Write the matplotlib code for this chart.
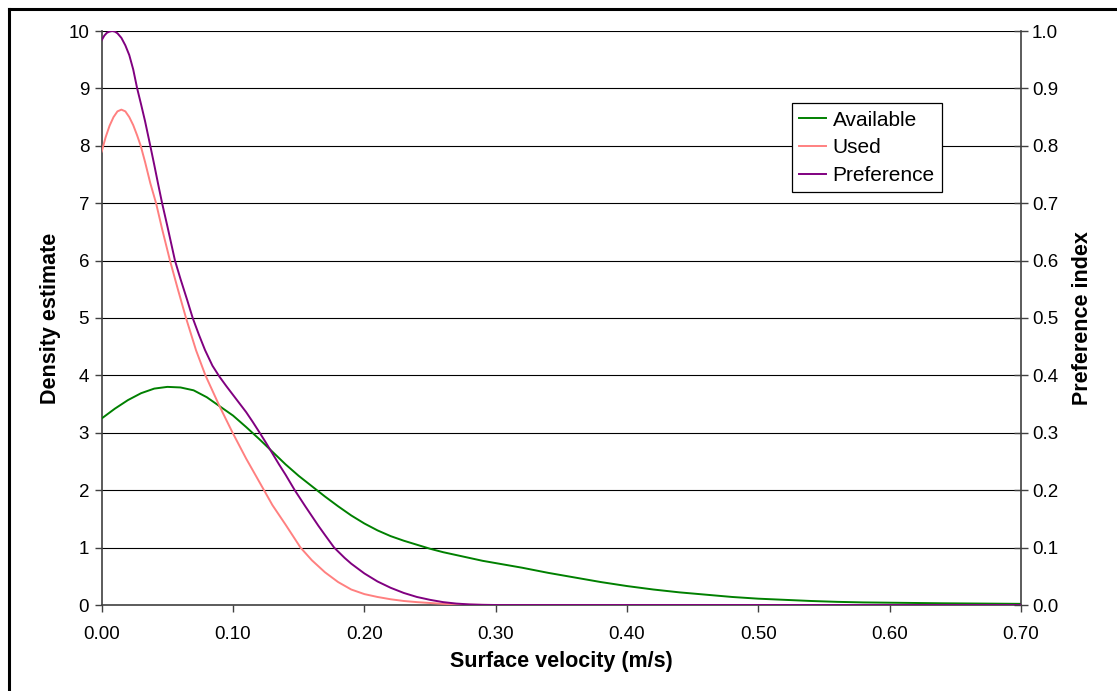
import matplotlib
matplotlib.use("Agg")
import matplotlib.pyplot as plt
from matplotlib.lines import Line2D

plt.rcParams['font.family'] = ['Liberation Sans', 'DejaVu Sans']

# Available density (left axis)
avail_x = [0.00, 0.01, 0.02, 0.03, 0.04, 0.05, 0.06, 0.07, 0.08, 0.09, 0.10, 0.11, 0.12, 0.13,
           0.14, 0.15, 0.16, 0.17, 0.18, 0.19, 0.20, 0.21, 0.22, 0.23, 0.24, 0.25, 0.26, 0.27,
           0.28, 0.29, 0.30, 0.32, 0.34, 0.36, 0.38, 0.40, 0.42, 0.44, 0.46, 0.48, 0.50, 0.52,
           0.54, 0.56, 0.58, 0.60, 0.64, 0.70]
avail_y = [3.25, 3.42, 3.57, 3.69, 3.77, 3.80, 3.79, 3.74, 3.62, 3.46, 3.30, 3.10, 2.89, 2.67,
           2.45, 2.25, 2.07, 1.89, 1.72, 1.56, 1.42, 1.30, 1.20, 1.12, 1.05, 0.98, 0.92, 0.87,
           0.82, 0.77, 0.73, 0.65, 0.56, 0.48, 0.40, 0.33, 0.27, 0.22, 0.18, 0.14, 0.11, 0.09,
           0.07, 0.055, 0.045, 0.04, 0.03, 0.02]

# Used density (left axis)
used_x = [0.000, 0.003, 0.006, 0.009, 0.012, 0.015, 0.018, 0.021, 0.024, 0.027, 0.0297, 0.033,
          0.037, 0.0414, 0.046, 0.052, 0.058, 0.0642, 0.0718, 0.079, 0.090, 0.0997, 0.110,
          0.1236, 0.130, 0.140, 0.1514, 0.160, 0.170, 0.180, 0.190, 0.200, 0.210, 0.220, 0.230,
          0.240, 0.250, 0.260, 0.270, 0.280, 0.290, 0.300, 0.400, 0.500, 0.600, 0.700]
used_y = [7.90, 8.15, 8.35, 8.50, 8.60, 8.63, 8.60, 8.50, 8.36, 8.18, 8.00, 7.72,
          7.35, 7.00, 6.55, 6.00, 5.50, 5.00, 4.44, 4.00, 3.45, 3.00, 2.55,
          2.00, 1.74, 1.40, 1.00, 0.78, 0.57, 0.40, 0.27, 0.19, 0.14, 0.10, 0.07,
          0.05, 0.035, 0.02, 0.01, 0.005, 0.002, 0.0, 0.0, 0.0, 0.0, 0.0]

# Preference index (right axis)
pref_x = [0.000, 0.002, 0.004, 0.006, 0.008, 0.010, 0.012, 0.015, 0.018, 0.021, 0.024, 0.027,
          0.030, 0.033, 0.037, 0.040, 0.043, 0.046, 0.050, 0.0558, 0.060, 0.065, 0.0693,
          0.074, 0.0787, 0.0843, 0.0896, 0.095, 0.100, 0.104, 0.110, 0.115, 0.1206,
          0.125, 0.130, 0.135, 0.140, 0.147, 0.155, 0.160, 0.165, 0.170, 0.177, 0.185, 0.190,
          0.200, 0.210, 0.220, 0.230, 0.240, 0.250, 0.260, 0.270, 0.280, 0.290, 0.300, 0.400,
          0.500, 0.600, 0.700]
pref_y = [0.984, 0.992, 0.997, 0.999, 1.000, 0.999, 0.996, 0.988, 0.975, 0.958, 0.933, 0.900,
          0.872, 0.843, 0.800, 0.767, 0.733, 0.700, 0.660, 0.600, 0.568, 0.532, 0.500,
          0.471, 0.444, 0.417, 0.398, 0.381, 0.366, 0.354, 0.336, 0.319, 0.299,
          0.283, 0.264, 0.245, 0.227, 0.200, 0.172, 0.155, 0.138, 0.122, 0.100, 0.082, 0.072,
          0.055, 0.041, 0.030, 0.021, 0.014, 0.009, 0.005, 0.0025, 0.001, 0.0003, 0.0, 0.0,
          0.0, 0.0, 0.0]

x_ticks = [0.00, 0.10, 0.20, 0.30, 0.40, 0.50, 0.60, 0.70]
left_ticks = list(range(0, 11))
right_ticks = [i / 10 for i in range(0, 11)]

W, H = 1117, 691
fig = plt.figure(figsize=(W / 100, H / 100), dpi=100)
fig.patch.set_facecolor('white')

# figure frame (left and top visible, rest outside)
fig.add_artist(Line2D([8.5 / W, 8.5 / W], [0, 1 - 8.5 / H], transform=fig.transFigure,
                      color='black', lw=2.2))
fig.add_artist(Line2D([8.5 / W, 1], [1 - 8.5 / H, 1 - 8.5 / H], transform=fig.transFigure,
                      color='black', lw=2.2))

ax = fig.add_axes([101.7 / W, (H - 605) / H, (1021 - 101.7) / W, (605 - 31) / H])
ax2 = ax.twinx()

ax.set_xlim(0, 0.70)
ax.set_ylim(0, 10)
ax2.set_ylim(0, 1.0)

for t in left_ticks[1:]:
    ax.axhline(t, color='black', lw=0.8, zorder=0)

ax.plot(avail_x, avail_y, color='#008000', lw=1.4, label='Available', zorder=3)
ax.plot(used_x, used_y, color='#FF8080', lw=1.4, label='Used', zorder=3)
ax2.plot(pref_x, pref_y, color='#800080', lw=1.4, label='Preference', zorder=3)

ax.set_xticks(x_ticks)
ax.set_xticklabels([f"{v:.2f}" for v in x_ticks])
ax.set_yticks(left_ticks)
ax.set_yticklabels([str(v) for v in left_ticks])
ax2.set_yticks(right_ticks)
ax2.set_yticklabels([f"{v:.1f}" for v in right_ticks])

spc = '#404040'
for a in (ax, ax2):
    a.spines['top'].set_visible(False)
    for s in ('left', 'right', 'bottom'):
        a.spines[s].set_color(spc)
        a.spines[s].set_linewidth(1.2)
ax.spines['right'].set_visible(False)
ax2.spines['left'].set_visible(False)
ax2.spines['bottom'].set_visible(False)

ax.tick_params(axis='both', labelsize=13.5, colors='black', length=5, width=1, pad=4)
ax.tick_params(axis='x', direction='out', color=spc, pad=10)
ax.tick_params(axis='y', direction='out', color=spc)
ax2.tick_params(axis='y', labelsize=13.5, direction='inout', length=10, width=1, color=spc, pad=3)

ax.set_xlabel('Surface velocity (m/s)', fontsize=15.5, fontweight='bold', labelpad=6)
ax.set_ylabel('Density estimate', fontsize=15.5, fontweight='bold', labelpad=5)
ax2.set_ylabel('Preference index', fontsize=15.5, fontweight='bold', labelpad=10)

handles = ax.get_lines()[-2:] + ax2.get_lines()[:1]
leg = fig.legend(handles, ['Available', 'Used', 'Preference'], loc='upper left',
                 bbox_to_anchor=(792 / W, 1 - 103.3 / H), fontsize=15, frameon=True,
                 fancybox=False, framealpha=1, edgecolor='black', borderpad=0.35,
                 handlelength=1.3, handletextpad=0.3, labelspacing=0.42, borderaxespad=0)
leg.get_frame().set_linewidth(0.9)

fig.savefig('out.png', dpi=100, facecolor='white')
